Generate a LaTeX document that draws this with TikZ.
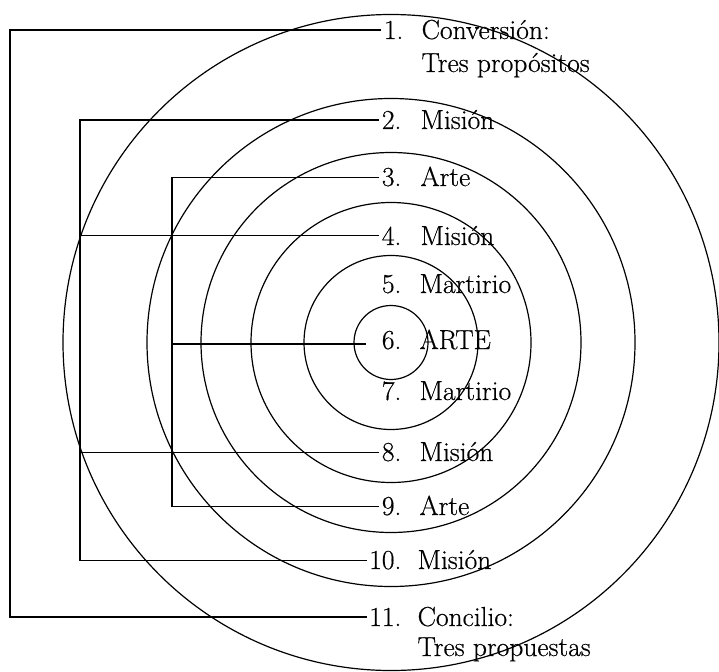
\documentclass[tikz,border=0pt]{standalone}
\usepackage{fontspec}
\setmainfont{Latin Modern Roman}[FakeBold=0.5]
\newcommand\lblfont{\fontsize{27.5}{32}\selectfont}
\begin{document}
\begin{tikzpicture}[x=1pt,y=-1pt,line width=1.2pt,
  num/.style={anchor=base east,inner xsep=2pt,inner ysep=0pt,font=\lblfont},
  lab/.style={anchor=base west,inner sep=0pt,font=\lblfont},
  ring/.style={draw,line width=1.2pt}]
\useasboundingbox (0,0) rectangle (719,671);
% concentric circles
\coordinate (c) at (391,342.5);
\draw[ring] (c) circle[radius=328];
\draw[ring] (c) circle[radius=244];
\draw[ring] (c) circle[radius=190];
\draw[ring] (c) circle[radius=140];
\draw[ring] (c) circle[radius=87];
\draw[ring] (c) circle[radius=37];
% numbers
\node[num] (n1) at (406,39) {1.};
\node[num] (n2) at (404,129) {2.};
\node[num] (n3) at (404,186) {3.};
\node[num] (n4) at (404,245) {4.};
\node[num] (n5) at (404,293) {5.};
\node[num] (n6) at (404,349) {6.};
\node[num] (n7) at (404,400) {7.};
\node[num] (n8) at (404,461) {8.};
\node[num] (n9) at (404,515) {9.};
\node[num] (n10) at (404,569) {10.};
\node[num] (n11) at (404,626) {11.};
% texts
\node[lab] (t1) at (421,39) {Conversión:};
\node[lab] (t1b) at (421,72) {Tres propósitos};
\node[lab] (t2) at (420,129) {Misión};
\node[lab] (t3) at (420,186) {Arte};
\node[lab] (t4) at (420,245) {Misión};
\node[lab] (t5) at (419,293) {Martirio};
\node[lab] (t6) at (419,349) {ARTE};
\node[lab] (t7) at (419,400) {Martirio};
\node[lab] (t8) at (419,461) {Misión};
\node[lab] (t9) at (419,515) {Arte};
\node[lab] (t10) at (417,569) {Misión};
\node[lab] (t11) at (417,626) {Concilio:};
\node[lab] (t11b) at (417,656) {Tres propuestas};
% bracket x positions
\coordinate (L1) at (10,0);
\coordinate (L2) at (80,0);
\coordinate (L3) at (172,0);
\coordinate (e6) at (366,344);
% brackets
\draw (n1.west) -- (n1.west -| L1) -- (n11.west -| L1) -- (n11.west);
\draw (n2.west) -- (n2.west -| L2) -- (n10.west -| L2) -- (n10.west);
\draw (n4.west) -- (n4.west -| L2);
\draw (n8.west) -- (n8.west -| L2);
\draw (n3.west) -- (n3.west -| L3) -- (n9.west -| L3) -- (n9.west);
\draw (e6) -- (e6 -| L3);
\end{tikzpicture}
\end{document}
